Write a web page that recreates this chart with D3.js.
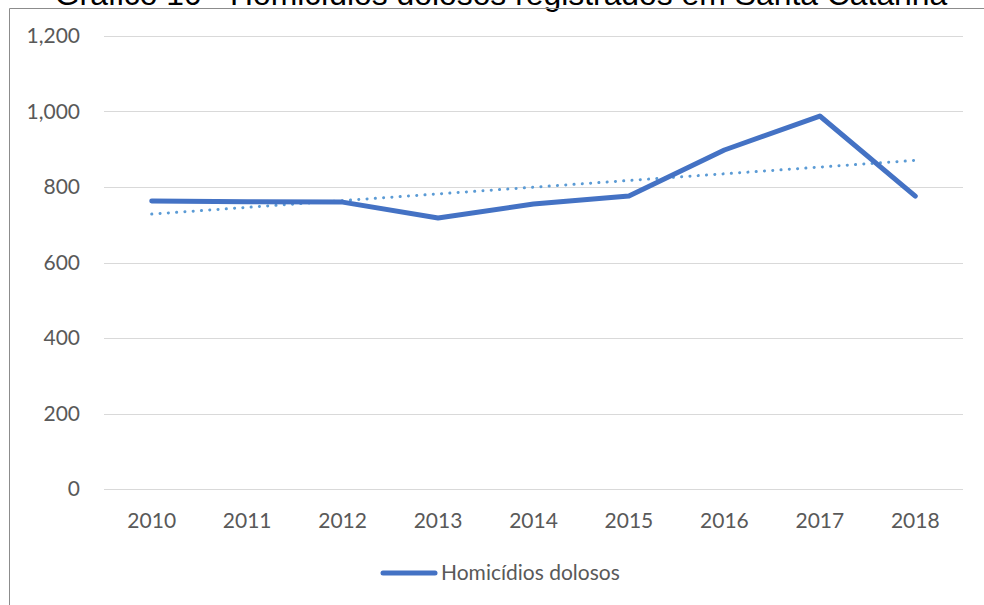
<!DOCTYPE html>
<html>
<head>
<meta charset="utf-8">
<script src="https://cdn.jsdelivr.net/npm/d3@7"></script>
<style>
  body { margin: 0; background: #fff; }
  svg { display: block; }
</style>
</head>
<body>
<svg id="chart" width="984" height="605"></svg>
<script>
// data
var years = ["2010", "2011", "2012", "2013", "2014", "2015", "2016", "2017", "2018"];
var homicidios = [763, 761, 760, 718, 755, 776, 898, 988, 776];
var yTicks = [0, 200, 400, 600, 800, 1000, 1200];
var seriesName = "Homicídios dolosos";
var title = "Gráfico 10 - Homicídios dolosos registrados em Santa Catarina";

var svg = d3.select("#chart");
var margin = {top: 36, right: 21, bottom: 116, left: 104},
    width = 984 - margin.left - margin.right,
    height = 605 - margin.top - margin.bottom;

var x = d3.scaleBand().domain(years).range([0, width]);
var y = d3.scaleLinear().domain([0, 1200]).range([height, 0]);

// title, cut off at the top edge like the original
var t = svg.append("text")
    .attr("x", 501)
    .attr("y", 5)
    .attr("text-anchor", "middle")
    .attr("font-family", "Liberation Sans, Arial, sans-serif")
    .attr("font-size", 28)
    .attr("fill", "#000")
    .text(title);
var tw = t.node().getComputedTextLength();
t.attr("font-size", 28 * 893 / tw);

// chart frame (left and top edges visible)
svg.append("path")
    .attr("d", "M9.5,605 V8.5 H984")
    .attr("fill", "none")
    .attr("stroke", "#8c8c8c")
    .attr("stroke-width", 1);

var g = svg.append("g").attr("transform", "translate(" + margin.left + "," + margin.top + ")");

// gridlines
g.append("g")
  .selectAll("line")
  .data(yTicks)
  .enter().append("line")
    .attr("x1", 0)
    .attr("x2", width)
    .attr("y1", function(d) { return Math.round(y(d)) + 0.5; })
    .attr("y2", function(d) { return Math.round(y(d)) + 0.5; })
    .attr("stroke", "#d9d9d9")
    .attr("stroke-width", 1);

var fontFam = "Lato, 'Open Sans', sans-serif";
var fs = 21;

// y axis labels
g.append("g")
  .selectAll("text")
  .data(yTicks)
  .enter().append("text")
    .attr("x", -24)
    .attr("y", function(d) { return y(d); })
    .attr("dy", "0.35em")
    .attr("text-anchor", "end")
    .attr("font-family", fontFam)
    .attr("font-size", fs)
    .attr("fill", "#595959")
    .text(d3.format(","));

// x axis labels
g.append("g")
  .selectAll("text")
  .data(years)
  .enter().append("text")
    .attr("x", function(d) { return x(d) + x.bandwidth() / 2; })
    .attr("y", height + 39)
    .attr("text-anchor", "middle")
    .attr("font-family", fontFam)
    .attr("font-size", fs)
    .attr("fill", "#595959")
    .text(function(d) { return d; });

// linear trendline (least squares on the series)
var n = homicidios.length;
var xm = d3.mean(d3.range(n)), ym = d3.mean(homicidios);
var slope = d3.sum(homicidios, function(v, i) { return (i - xm) * (v - ym); }) /
            d3.sum(d3.range(n), function(i) { return (i - xm) * (i - xm); });
var trend = [0, n - 1].map(function(i) { return {year: years[i], v: ym + slope * (i - xm)}; });

var line = d3.line()
    .x(function(d) { return x(d.year) + x.bandwidth() / 2; })
    .y(function(d) { return y(d.v); });

g.append("path")
    .datum(trend)
    .attr("d", line)
    .attr("fill", "none")
    .attr("stroke", "#5b9bd5")
    .attr("stroke-width", 3)
    .attr("stroke-linecap", "round")
    .attr("stroke-dasharray", "0.1,8.2");

// main series
g.append("path")
    .datum(years.map(function(yr, i) { return {year: yr, v: homicidios[i]}; }))
    .attr("d", line)
    .attr("fill", "none")
    .attr("stroke", "#4472c4")
    .attr("stroke-width", 5)
    .attr("stroke-linejoin", "round")
    .attr("stroke-linecap", "round");

// legend
var legend = svg.append("g").attr("transform", "translate(383,573)");
legend.append("line")
    .attr("x1", 0).attr("x2", 52)
    .attr("y1", 0).attr("y2", 0)
    .attr("stroke", "#4472c4")
    .attr("stroke-width", 5)
    .attr("stroke-linecap", "round");
legend.append("text")
    .attr("x", 58)
    .attr("y", 0)
    .attr("dy", "0.35em")
    .attr("font-family", fontFam)
    .attr("font-size", fs)
    .attr("fill", "#595959")
    .text(seriesName);
</script>
</body>
</html>
